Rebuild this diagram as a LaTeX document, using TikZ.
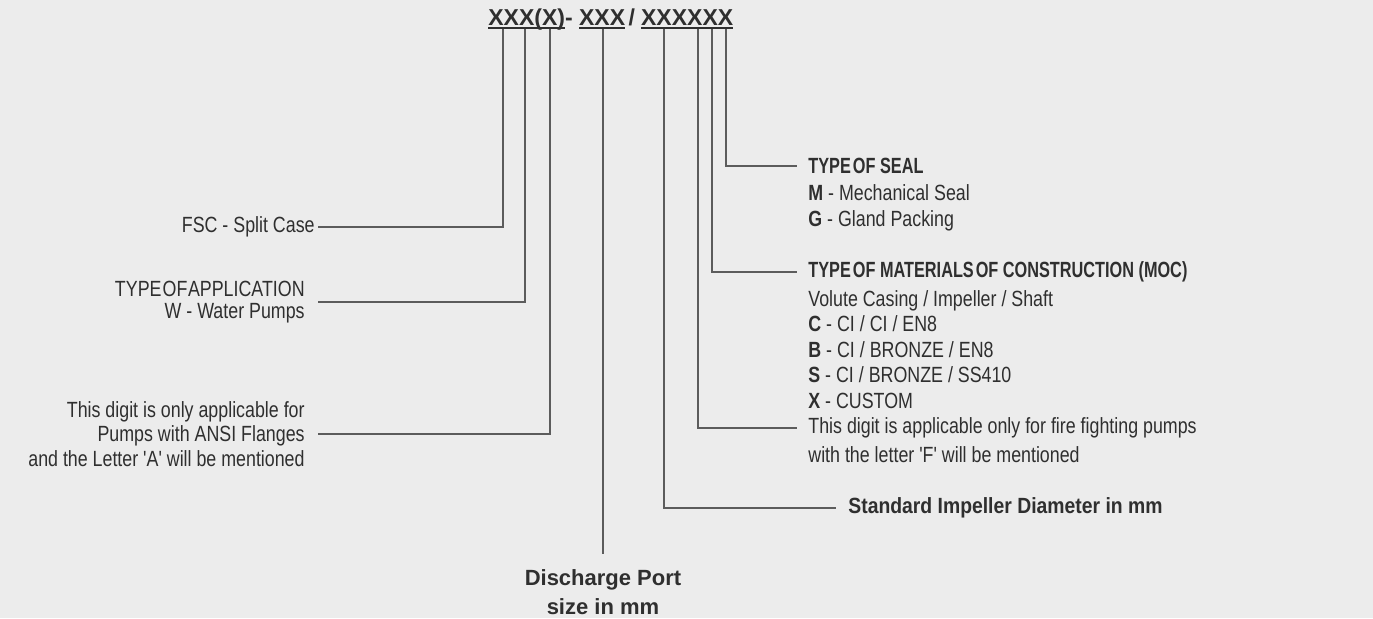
\documentclass[tikz,border=0pt]{standalone}
\usepackage{fontspec}
\setmainfont{Liberation Sans}
\newfontfamily\narrowfont[FakeStretch=0.81]{Liberation Sans}
\newfontfamily\headfont[FakeStretch=0.74]{Liberation Sans}
\newfontfamily\semifont[FakeStretch=0.88]{Liberation Sans}
\usetikzlibrary{positioning}
\definecolor{bggray}{HTML}{ECECEC}
\definecolor{txtgray}{HTML}{2F2F2F}
\definecolor{leadgray}{HTML}{5C5C5C}
\newcommand\codeul[1]{\setbox0\hbox{#1}\rlap{\rule[-1.9pt]{\wd0}{0.9pt}}\box0\relax}

\begin{document}
\begin{tikzpicture}[x=0.5pt, y=-0.5pt, every node/.style={text=txtgray}]
    \tikzset{
        lead/.style={draw=leadgray, line width=0.7pt},
        lefttxt/.style={font=\narrowfont\fontsize{11}{12.25}\selectfont, align=right, anchor=east, inner xsep=6.5pt, inner ysep=0pt},
        righttxt/.style={font=\narrowfont\fontsize{11}{12.75}\selectfont, align=left, inner xsep=5.5pt, inner ysep=0pt},
        headtxt/.style={font=\headfont\bfseries\fontsize{11}{12.75}\selectfont, anchor=west, inner xsep=5.5pt, inner ysep=0pt},
        codetxt/.style={font=\bfseries\fontsize{11.5}{14}\selectfont, inner sep=0pt}
    }
    \fill[bggray] (0,0) rectangle (1373,618);
    \useasboundingbox (0,0) rectangle (1373,618);
    % model code
    \node[codetxt, anchor=base west] (code) at (488,25) {\codeul{XXX(X)}- \codeul{XXX}\hspace{1.8pt}/\hspace{3pt}\codeul{XXXXXX}};
    \coordinate (tfsc) at (503,29);
    \coordinate (tapp) at (525,29);
    \coordinate (tansi) at (550,29);
    \coordinate (tport) at (603,29);
    \coordinate (tdia) at (664,29);
    \coordinate (tfire) at (698,29);
    \coordinate (tmoc) at (712,29);
    \coordinate (tseal) at (726,29);
    % left side
    \node[lefttxt, inner xsep=1.5pt] (fsc) at (318,227) {FSC - Split Case};
    \node[lefttxt, font=\narrowfont\fontsize{11}{10.7}\selectfont] (app) at (318,302) {TYPE\hspace{0.6pt}OF\hspace{0.3pt}APPLICATION\\W - Water Pumps};
    \node[lefttxt] (ansi) at (318,434) {This digit is only applicable for\\Pumps with ANSI Flanges\\and the Letter 'A' will be mentioned};
    \node[font=\bfseries\fontsize{11}{14.5}\selectfont, align=center, anchor=north, inner xsep=0pt, inner ysep=7.5pt] (port) at (603,554) {Discharge Port\\size in mm};
    % right side
    \node[headtxt] (seal) at (797,166) {TYPE\hspace{1pt}OF SEAL};
    \node[righttxt, below right=5pt and 0pt of seal.south west] (seallist) {\textbf{M} - Mechanical Seal\\\textbf{G} - Gland Packing};
    \node[headtxt] (moc) at (797,272) {TYPE\hspace{1pt}OF MATERIALS\hspace{1pt}OF CONSTRUCTION (MOC)};
    \node[righttxt, below right=3.5pt and 0pt of moc.south west] (moclist) {Volute Casing / Impeller / Shaft\\
        \textbf{C} - CI / CI / EN8\\
        \textbf{B} - CI / BRONZE / EN8\\
        \textbf{S} - CI / BRONZE / SS410\\
        \textbf{X} - CUSTOM};
    \node[righttxt, anchor=west] (fire) at (797,428) {This digit is applicable only for fire fighting pumps};
    \node[righttxt, below right=3.5pt and 0pt of fire.south west] (fire2) {with the letter 'F' will be mentioned};
    \node[font=\semifont\bfseries\fontsize{11}{13}\selectfont, anchor=west, inner xsep=6pt, inner ysep=0pt] (dia) at (836,508) {Standard Impeller Diameter in mm};
    % leaders
    \draw[lead] (tfsc) |- (fsc.east);
    \draw[lead] (tapp) |- (app.east);
    \draw[lead] (tansi) |- (ansi.east);
    \draw[lead] (tport) -- (port.north);
    \draw[lead] (tdia) |- (dia.west);
    \draw[lead] (tfire) |- (fire.west);
    \draw[lead] (tmoc) |- (moc.west);
    \draw[lead] (tseal) |- (seal.west);
\end{tikzpicture}
\end{document}
